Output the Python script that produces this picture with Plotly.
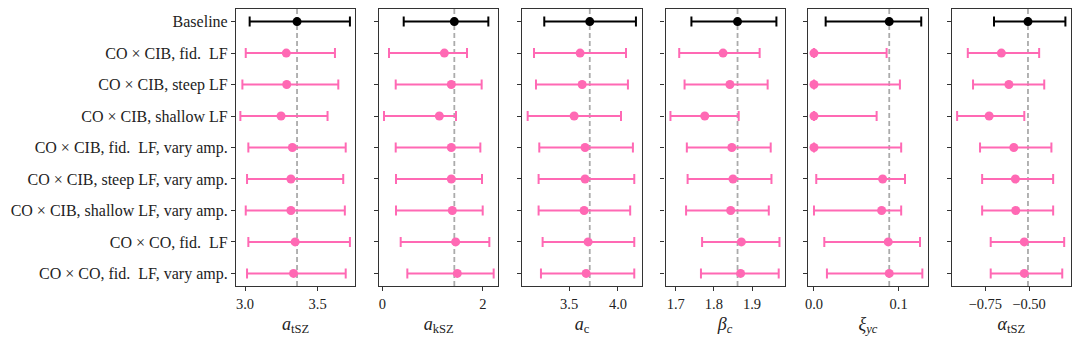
import plotly.graph_objects as go

PINK = "#FF69B4"
BLACK = "#000000"
DASH = "#ABABAB"
FONT = "Liberation Serif"

ROWS = [
    "Baseline",
    "CO × CIB, fid.  LF",
    "CO × CIB, steep LF",
    "CO × CIB, shallow LF",
    "CO × CIB, fid.  LF, vary amp.",
    "CO × CIB, steep LF, vary amp.",
    "CO × CIB, shallow LF, vary amp.",
    "CO × CO, fid.  LF",
    "CO × CO, fid.  LF, vary amp.",
]

# best fit / lower / upper for each parameter, row order as ROWS
A_TSZ_MID = [3.358, 3.284, 3.287, 3.248, 3.326, 3.316, 3.316, 3.345, 3.334]
A_TSZ_LO  = [3.032, 3.005, 2.982, 2.968, 3.023, 3.014, 3.005, 3.023, 3.014]
A_TSZ_HI  = [3.722, 3.619, 3.642, 3.568, 3.693, 3.676, 3.687, 3.722, 3.693]

A_KSZ_MID = [1.431, 1.233, 1.371, 1.133, 1.371, 1.371, 1.391, 1.457, 1.490]
A_KSZ_LO  = [0.425, 0.133, 0.266, 0.034, 0.266, 0.272, 0.272, 0.365, 0.497]
A_KSZ_HI  = [2.107, 1.683, 1.974, 1.464, 1.948, 1.981, 1.995, 2.127, 2.213]

A_C_MID = [3.711, 3.612, 3.633, 3.551, 3.663, 3.663, 3.653, 3.694, 3.674]
A_C_LO  = [3.245, 3.140, 3.160, 3.075, 3.194, 3.187, 3.187, 3.228, 3.211]
A_C_HI  = [4.184, 4.082, 4.102, 4.031, 4.153, 4.167, 4.125, 4.167, 4.167]

BETA_MID = [1.862, 1.824, 1.842, 1.776, 1.847, 1.850, 1.844, 1.872, 1.870]
BETA_LO  = [1.741, 1.709, 1.723, 1.686, 1.729, 1.731, 1.727, 1.769, 1.766]
BETA_HI  = [1.964, 1.920, 1.941, 1.865, 1.949, 1.951, 1.944, 1.972, 1.970]

XI_MID = [0.0889, 0.0, 0.0, 0.0, 0.0, 0.0811, 0.0799, 0.0877, 0.0889]
XI_LO  = [0.0138, 0.0, 0.0, 0.0, 0.0, 0.0027, 0.0, 0.0122, 0.0153]
XI_HI  = [0.1267, 0.0858, 0.1015, 0.0740, 0.1030, 0.1075, 0.1030, 0.1252, 0.1280]

ALPHA_MID = [-0.506, -0.658, -0.615, -0.728, -0.587, -0.578, -0.576, -0.527, -0.527]
ALPHA_LO  = [-0.700, -0.850, -0.820, -0.911, -0.780, -0.768, -0.768, -0.719, -0.719]
ALPHA_HI  = [-0.292, -0.442, -0.413, -0.527, -0.372, -0.362, -0.362, -0.299, -0.310]

TITLES = [
    "<i>a</i><sub>tSZ</sub>",
    "<i>a</i><sub>kSZ</sub>",
    "<i>a</i><sub>c</sub>",
    "<i>β<sub>c</sub></i>",
    "<i>ξ<sub>yc</sub></i>",
    "<i>α</i><sub>tSZ</sub>",
]
TICKVALS = [[3.0, 3.5], [0, 2], [3.5, 4.0], [1.7, 1.8, 1.9], [0.0, 0.1], [-0.75, -0.50]]
TICKTEXT = [["3.0", "3.5"], ["0", "2"], ["3.5", "4.0"], ["1.7", "1.8", "1.9"],
            ["0.0", "0.1"], ["−0.75", "−0.50"]]
XRANGES = [[2.938, 3.759], [-0.066, 2.305], [3.020, 4.242],
           [1.673, 1.986], [-0.0067, 0.1342], [-0.942, -0.260]]

PANELS = [
    (A_TSZ_MID, A_TSZ_LO, A_TSZ_HI),
    (A_KSZ_MID, A_KSZ_LO, A_KSZ_HI),
    (A_C_MID, A_C_LO, A_C_HI),
    (BETA_MID, BETA_LO, BETA_HI),
    (XI_MID, XI_LO, XI_HI),
    (ALPHA_MID, ALPHA_LO, ALPHA_HI),
]

W, H = 1080, 339
LEFTS = [236, 379, 522.3, 665.5, 808.3, 951.7]
PW = 119.3
Y_TOP, Y_BOT = 9, 286

fig = go.Figure()
y_idx = list(range(len(ROWS)))

for i, (mid, lo, hi) in enumerate(PANELS):
    n = "" if i == 0 else str(i + 1)
    for rows, col in [(y_idx[:1], BLACK), (y_idx[1:], PINK)]:
        xs = [mid[r] for r in rows]
        fig.add_trace(go.Scatter(
            x=xs, y=rows, mode="markers",
            marker=dict(size=9, color=col),
            error_x=dict(type="data", symmetric=False,
                         array=[hi[r] - mid[r] for r in rows],
                         arrayminus=[mid[r] - lo[r] for r in rows],
                         color=col, thickness=2, width=5),
            xaxis="x" + n, yaxis="y" + n, showlegend=False,
        ))
    # fiducial value = baseline best fit
    fig.add_shape(type="line", x0=mid[0], x1=mid[0], y0=0, y1=1,
                  xref="x" + n, yref=("y" + n) + " domain", layer="below",
                  line=dict(color=DASH, width=1.8, dash="5px,3px"))

    x0 = LEFTS[i] / W
    ax = dict(
        domain=[x0, x0 + PW / W], range=XRANGES[i],
        tickvals=TICKVALS[i], ticktext=TICKTEXT[i],
        ticks="outside", ticklen=4, tickcolor="#333", tickwidth=1,
        showline=True, linecolor="#333", linewidth=1.2, mirror=True,
        showgrid=False, zeroline=False, automargin=False,
        tickfont=dict(family=FONT, size=14.5, color="#222"),
        title=dict(text=TITLES[i], standoff=6,
                   font=dict(family=FONT, size=18, color="#222")),
        anchor="y" + n,
    )
    ay = dict(
        domain=[1 - Y_BOT / H, 1 - Y_TOP / H], range=[8.4, -0.4],
        tickvals=y_idx, ticktext=ROWS, showticklabels=(i == 0),
        ticks="outside", ticklen=4, tickcolor="#333", tickwidth=1,
        showline=True, linecolor="#333", linewidth=1.2, mirror=True,
        showgrid=False, zeroline=False, automargin=False,
        tickfont=dict(family=FONT, size=16, color="#222"),
        anchor="x" + n,
    )
    fig.update_layout({"xaxis" + n: ax, "yaxis" + n: ay})

fig.update_layout(
    width=W, height=H,
    margin=dict(l=0, r=0, t=0, b=0),
    paper_bgcolor="white", plot_bgcolor="white",
    font=dict(family=FONT, color="#222"),
)

fig.write_html("out.html", config={"displayModeBar": False},
               post_script="document.body.style.margin='0';")
